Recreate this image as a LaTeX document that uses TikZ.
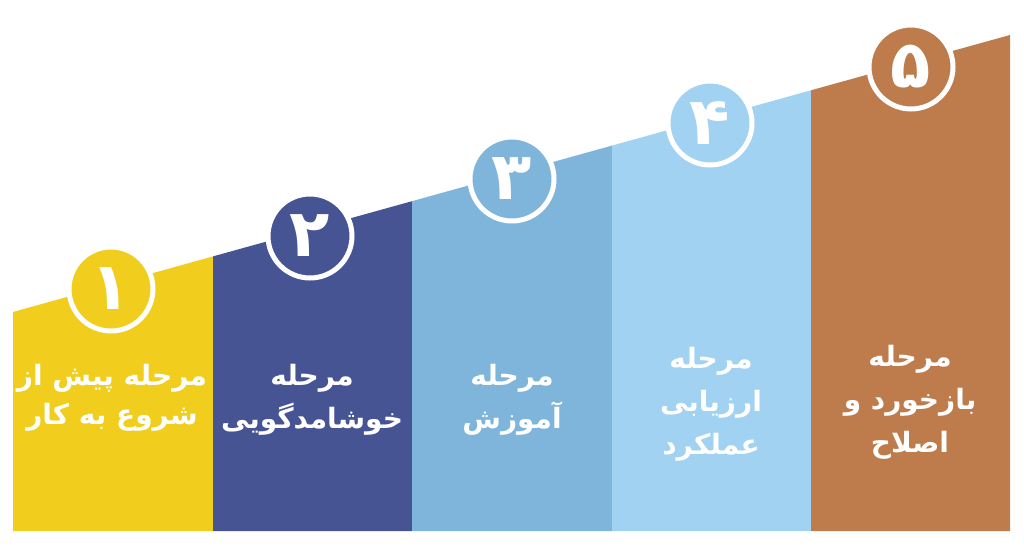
\documentclass[tikz,border=0pt]{standalone}
\usepackage{fontspec}
\newfontfamily\arabicfont[Script=Arabic]{DejaVu Sans}
\TeXXeTstate=1
\definecolor{cyellow}{RGB}{241,206,30}
\definecolor{cdark}{RGB}{71,84,148}
\definecolor{cmid}{RGB}{127,181,218}
\definecolor{clight}{RGB}{162,210,241}
\definecolor{cbrown}{RGB}{190,123,76}
\begin{document}
\begin{tikzpicture}[x=1pt,y=-1pt,
  stepcircle/.style={circle, draw=white, line width=5pt, minimum size=84pt, inner sep=0pt, text=white, font=\arabicfont\bfseries\fontsize{66}{66}\selectfont},
  steplabel/.style={text=white, align=center, inner sep=0pt, font=\arabicfont\bfseries\fontsize{28}{43}\selectfont}]
\useasboundingbox (0,0) rectangle (1024,553);
\fill[white] (0,0) rectangle (1024,553);
% columns
\fill[cyellow] (13,531) -- (13,312) -- (213,256.4) -- (213,531) -- cycle;
\fill[cdark] (213,531) -- (213,256.4) -- (412,201.2) -- (412,531) -- cycle;
\fill[cmid] (412,531) -- (412,201.2) -- (612,145.6) -- (612,531) -- cycle;
\fill[clight] (612,531) -- (612,145.6) -- (811,90.3) -- (811,531) -- cycle;
\fill[cbrown] (811,531) -- (811,90.3) -- (1010,35) -- (1010,531) -- cycle;
% circles
\node[stepcircle, fill=cyellow] (c1) at (111,289) {\beginR ۱\endR};
\node[stepcircle, fill=cdark] (c2) at (310,236) {\beginR ۲\endR};
\node[stepcircle, fill=cmid] (c3) at (512,179) {\beginR ۳\endR};
\node[stepcircle, fill=clight] (c4) at (710,123) {\beginR ۴\endR};
\node[stepcircle, fill=cbrown] (c5) at (911,67) {\beginR ۵\endR};
% labels
\node[steplabel, font=\arabicfont\bfseries\fontsize{28}{39}\selectfont] (t1) at (112,398) {\beginR مرحله پیش از\endR\\\beginR شروع به کار\endR};
\node[steplabel] (t2) at (312,400) {\beginR مرحله\endR\\\beginR خوشامدگویی\endR};
\node[steplabel] (t3) at (512,400) {\beginR مرحله\endR\\\beginR آموزش\endR};
\node[steplabel] (t4) at (711,404) {\beginR مرحله\endR\\\beginR ارزیابی\endR\\\beginR عملکرد\endR};
\node[steplabel] (t5) at (910,402) {\beginR مرحله\endR\\\beginR بازخورد و\endR\\\beginR اصلاح\endR};
\end{tikzpicture}
\end{document}
